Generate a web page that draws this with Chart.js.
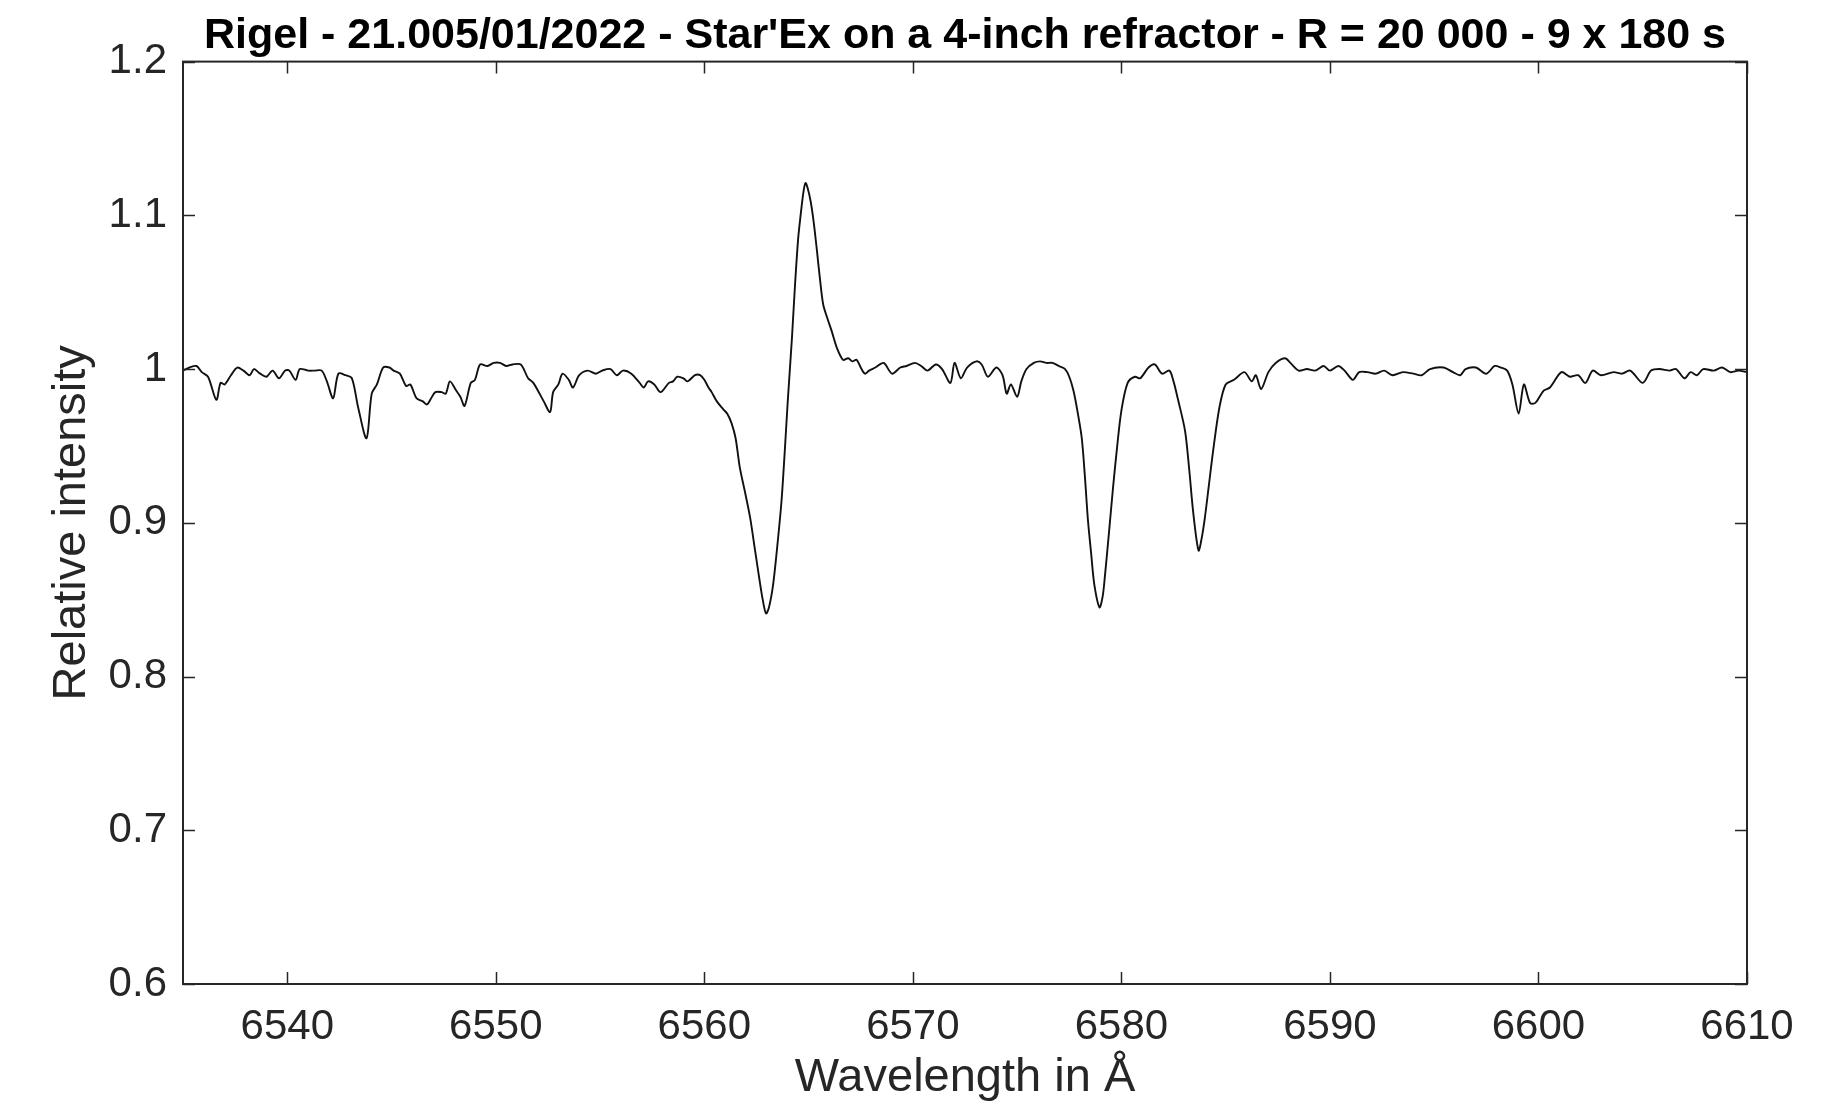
<!DOCTYPE html>
<html>
<head>
<meta charset="utf-8">
<script src="https://cdn.jsdelivr.net/npm/chart.js@4"></script>
<style>
  body { margin: 0; background: #fff; }
  #wrap { width: 1825px; height: 1106px; }
</style>
</head>
<body>
<div id="wrap"><canvas id="spec" width="1825" height="1106"></canvas></div>
<script>
// wavelength (Angstrom) and relative intensity
const wavelengths = [
  6535.0, 6535.3, 6535.65, 6535.9, 6536.2, 6536.6, 6536.8, 6537.0, 6537.3, 6537.6,
  6537.9, 6538.2, 6538.4, 6538.7, 6539.0, 6539.3, 6539.6, 6539.9, 6540.1, 6540.4,
  6540.6, 6541.0, 6541.3, 6541.65, 6541.9, 6542.2, 6542.45, 6542.8, 6543.1, 6543.4,
  6543.8, 6544.05, 6544.3, 6544.6, 6544.9, 6545.1, 6545.4, 6545.7, 6545.9, 6546.2,
  6546.5, 6546.7, 6546.9, 6547.1, 6547.4, 6547.6, 6547.8, 6548.1, 6548.3, 6548.5,
  6548.8, 6549.0, 6549.25, 6549.6, 6549.9, 6550.2, 6550.5, 6550.8, 6551.2, 6551.55,
  6551.8, 6552.3, 6552.6, 6552.75, 6553.0, 6553.2, 6553.5, 6553.7, 6554.0, 6554.4,
  6554.8, 6555.1, 6555.5, 6555.8, 6556.1, 6556.5, 6556.9, 6557.1, 6557.3, 6557.6,
  6557.9, 6558.3, 6558.5, 6558.7, 6559.0, 6559.2, 6559.55, 6559.8, 6560.0, 6560.2,
  6560.35, 6560.6, 6560.9, 6561.1, 6561.3, 6561.5, 6561.7, 6561.95, 6562.2, 6562.4,
  6562.6, 6562.8, 6562.96, 6563.1, 6563.3, 6563.5, 6563.7, 6563.85, 6564.0, 6564.2,
  6564.35, 6564.5, 6564.6, 6564.75, 6564.85, 6564.95, 6565.1, 6565.25, 6565.4, 6565.55,
  6565.7, 6565.9, 6566.1, 6566.35, 6566.65, 6566.9, 6567.1, 6567.3, 6567.5, 6567.7,
  6567.9, 6568.2, 6568.6, 6569.0, 6569.4, 6569.7, 6570.1, 6570.4, 6570.7, 6571.1,
  6571.4, 6571.8, 6572.0, 6572.3, 6572.6, 6573.05, 6573.3, 6573.6, 6574.0, 6574.3,
  6574.5, 6574.7, 6575.0, 6575.2, 6575.45, 6575.8, 6576.1, 6576.4, 6576.7, 6577.0,
  6577.3, 6577.5, 6577.7, 6577.9, 6578.1, 6578.25, 6578.4, 6578.55, 6578.7, 6578.95,
  6579.1, 6579.2, 6579.4, 6579.6, 6579.8, 6580.0, 6580.3, 6580.65, 6580.9, 6581.3,
  6581.6, 6581.95, 6582.3, 6582.5, 6582.7, 6583.05, 6583.25, 6583.45, 6583.7, 6583.85,
  6584.0, 6584.2, 6584.4, 6584.7, 6585.0, 6585.4, 6585.9, 6586.25, 6586.45, 6586.7,
  6587.05, 6587.4, 6587.85, 6588.1, 6588.5, 6588.9, 6589.3, 6589.7, 6590.0, 6590.4,
  6590.7, 6591.1, 6591.4, 6591.8, 6592.2, 6592.6, 6593.0, 6593.5, 6594.0, 6594.4,
  6594.8, 6595.45, 6595.9, 6596.25, 6596.5, 6597.0, 6597.5, 6597.9, 6598.2, 6598.5,
  6598.75, 6599.05, 6599.3, 6599.6, 6599.85, 6600.25, 6600.55, 6601.1, 6601.5, 6601.9,
  6602.25, 6602.6, 6603.0, 6603.6, 6604.0, 6604.4, 6605.0, 6605.4, 6605.8, 6606.3,
  6606.6, 6607.0, 6607.3, 6607.6, 6607.9, 6608.4, 6608.8, 6609.2, 6609.6, 6610.0
];
const intensity = [
  0.999, 1.001, 1.002, 0.998, 0.995, 0.980, 0.991, 0.990, 0.996, 1.001,
  0.999, 0.996, 1.000, 0.997, 0.995, 0.999, 0.994, 0.999, 0.999, 0.993,
  1.000, 0.999, 0.999, 0.999, 0.992, 0.981, 0.997, 0.996, 0.994, 0.975,
  0.955, 0.984, 0.990, 1.001, 1.001, 0.999, 0.997, 0.989, 0.990, 0.981,
  0.979, 0.977, 0.981, 0.985, 0.985, 0.984, 0.992, 0.986, 0.982, 0.976,
  0.991, 0.993, 1.003, 1.002, 1.004, 1.004, 1.002, 1.003, 1.003, 0.994,
  0.991, 0.979, 0.972, 0.985, 0.990, 0.997, 0.993, 0.988, 0.996, 0.999,
  0.997, 0.999, 1.000, 0.996, 0.999, 0.997, 0.991, 0.988, 0.992, 0.990,
  0.985, 0.991, 0.992, 0.995, 0.994, 0.992, 0.996, 0.996, 0.993, 0.988,
  0.985, 0.979, 0.974, 0.971, 0.965, 0.955, 0.936, 0.920, 0.903, 0.885,
  0.867, 0.850, 0.841, 0.845, 0.860, 0.885, 0.914, 0.945, 0.979, 1.020,
  1.055, 1.085, 1.098, 1.115, 1.121, 1.118, 1.109, 1.095, 1.077, 1.058,
  1.042, 1.033, 1.025, 1.014, 1.006, 1.007, 1.005, 1.006, 1.001, 0.997,
  0.999, 1.001, 1.004, 0.997, 1.001, 1.002, 1.004, 1.002, 0.999, 1.003,
  1.000, 0.991, 1.004, 0.994, 1.001, 1.005, 1.003, 0.995, 1.001, 0.996,
  0.984, 0.990, 0.982, 0.992, 1.000, 1.004, 1.005, 1.004, 1.004, 1.002,
  1.000, 0.995, 0.986, 0.972, 0.955, 0.930, 0.901, 0.880, 0.860, 0.845,
  0.852, 0.864, 0.893, 0.923, 0.950, 0.973, 0.991, 0.995, 0.994, 1.001,
  1.003, 0.997, 0.999, 0.992, 0.981, 0.960, 0.935, 0.906, 0.882, 0.890,
  0.903, 0.925, 0.947, 0.975, 0.990, 0.993, 0.998, 0.992, 0.996, 0.987,
  0.998, 1.004, 1.007, 1.004, 0.999, 1.000, 0.999, 1.002, 0.999, 1.002,
  0.999, 0.993, 0.998, 0.998, 0.997, 0.999, 0.996, 0.998, 0.997, 0.996,
  1.000, 1.001, 0.998, 0.996, 1.000, 1.001, 0.997, 1.002, 1.001, 0.999,
  0.990, 0.971, 0.990, 0.978, 0.978, 0.986, 0.988, 0.998, 0.995, 0.996,
  0.991, 0.999, 0.996, 0.998, 0.997, 0.999, 0.991, 0.999, 1.000, 0.999,
  1.000, 0.994, 0.998, 0.996, 1.000, 0.999, 1.001, 0.998, 0.999, 0.998
];
const xTicks = [6540, 6550, 6560, 6570, 6580, 6590, 6600, 6610];
const yTicks = [0.6, 0.7, 0.8, 0.9, 1.0, 1.1, 1.2];
const yTickLabels = ["0.6", "0.7", "0.8", "0.9", "1", "1.1", "1.2"];

const axisColor = "#262626";
const fontFamily = "'Liberation Sans', Arial, Helvetica, sans-serif";

// MATLAB-style box with inward ticks on all four sides
const boxTicks = {
  id: "boxTicks",
  afterDraw(chart) {
    const ctx = chart.ctx;
    const a = chart.chartArea;
    const xs = chart.scales.x, ys = chart.scales.y;
    const len = 12;
    ctx.save();
    ctx.strokeStyle = axisColor;
    ctx.lineWidth = 1.5;
    ctx.beginPath();
    xTicks.forEach(v => {
      const px = Math.round(xs.getPixelForValue(v)) + 0.5;
      ctx.moveTo(px, a.bottom); ctx.lineTo(px, a.bottom - len);
      ctx.moveTo(px, a.top); ctx.lineTo(px, a.top + len);
    });
    yTicks.forEach(v => {
      const py = Math.round(ys.getPixelForValue(v)) + 0.5;
      ctx.moveTo(a.left, py); ctx.lineTo(a.left + len, py);
      ctx.moveTo(a.right, py); ctx.lineTo(a.right - len, py);
    });
    ctx.stroke();
    ctx.lineWidth = 2;
    ctx.strokeRect(a.left, a.top, a.right - a.left, a.bottom - a.top);
    ctx.restore();
  }
};

new Chart(document.getElementById("spec"), {
  type: "line",
  data: {
    datasets: [{
      data: wavelengths.map((w, i) => ({ x: w, y: intensity[i] })),
      borderColor: "#111111",
      borderWidth: 1.9,
      pointRadius: 0,
      tension: 0.3,
      fill: false
    }]
  },
  options: {
    responsive: false,
    animation: false,
    layout: { padding: { top: 0, right: 78, bottom: 0, left: 0 } },
    plugins: {
      legend: { display: false },
      tooltip: { enabled: false },
      title: {
        display: true,
        fullSize: false,
        text: "Rigel - 21.005/01/2022 - Star'Ex on a 4-inch refractor - R = 20 000 - 9 x 180 s",
        color: "#000",
        font: { family: fontFamily, size: 43, weight: "bold" },
        padding: { top: 10, bottom: 0 }
      }
    },
    scales: {
      x: {
        type: "linear",
        min: 6535,
        max: 6610,
        afterBuildTicks: s => { s.ticks = xTicks.map(v => ({ value: v })); },
        afterFit: s => { s.height = 122; },
        grid: { display: false, drawTicks: false },
        border: { display: false },
        ticks: {
          color: axisColor,
          font: { family: fontFamily, size: 42 },
          padding: 18,
          maxRotation: 0,
          callback: v => String(v)
        },
        title: {
          display: true,
          text: "Wavelength in Å",
          color: axisColor,
          font: { family: fontFamily, size: 47 },
          padding: { top: 0, bottom: 0 }
        }
      },
      y: {
        min: 0.6,
        max: 1.2,
        afterBuildTicks: s => { s.ticks = yTicks.map(v => ({ value: v })); },
        afterFit: s => { s.width = 183; },
        grid: { display: false, drawTicks: false },
        border: { display: false },
        ticks: {
          color: axisColor,
          font: { family: fontFamily, size: 42 },
          padding: 16,
          callback: (v) => yTickLabels[yTicks.findIndex(t => Math.abs(t - v) < 1e-6)]
        },
        title: {
          display: true,
          text: "Relative intensity",
          color: axisColor,
          font: { family: fontFamily, size: 47 },
          padding: { top: 44, bottom: 0 }
        }
      }
    }
  },
  plugins: [boxTicks]
});
</script>
</body>
</html>
